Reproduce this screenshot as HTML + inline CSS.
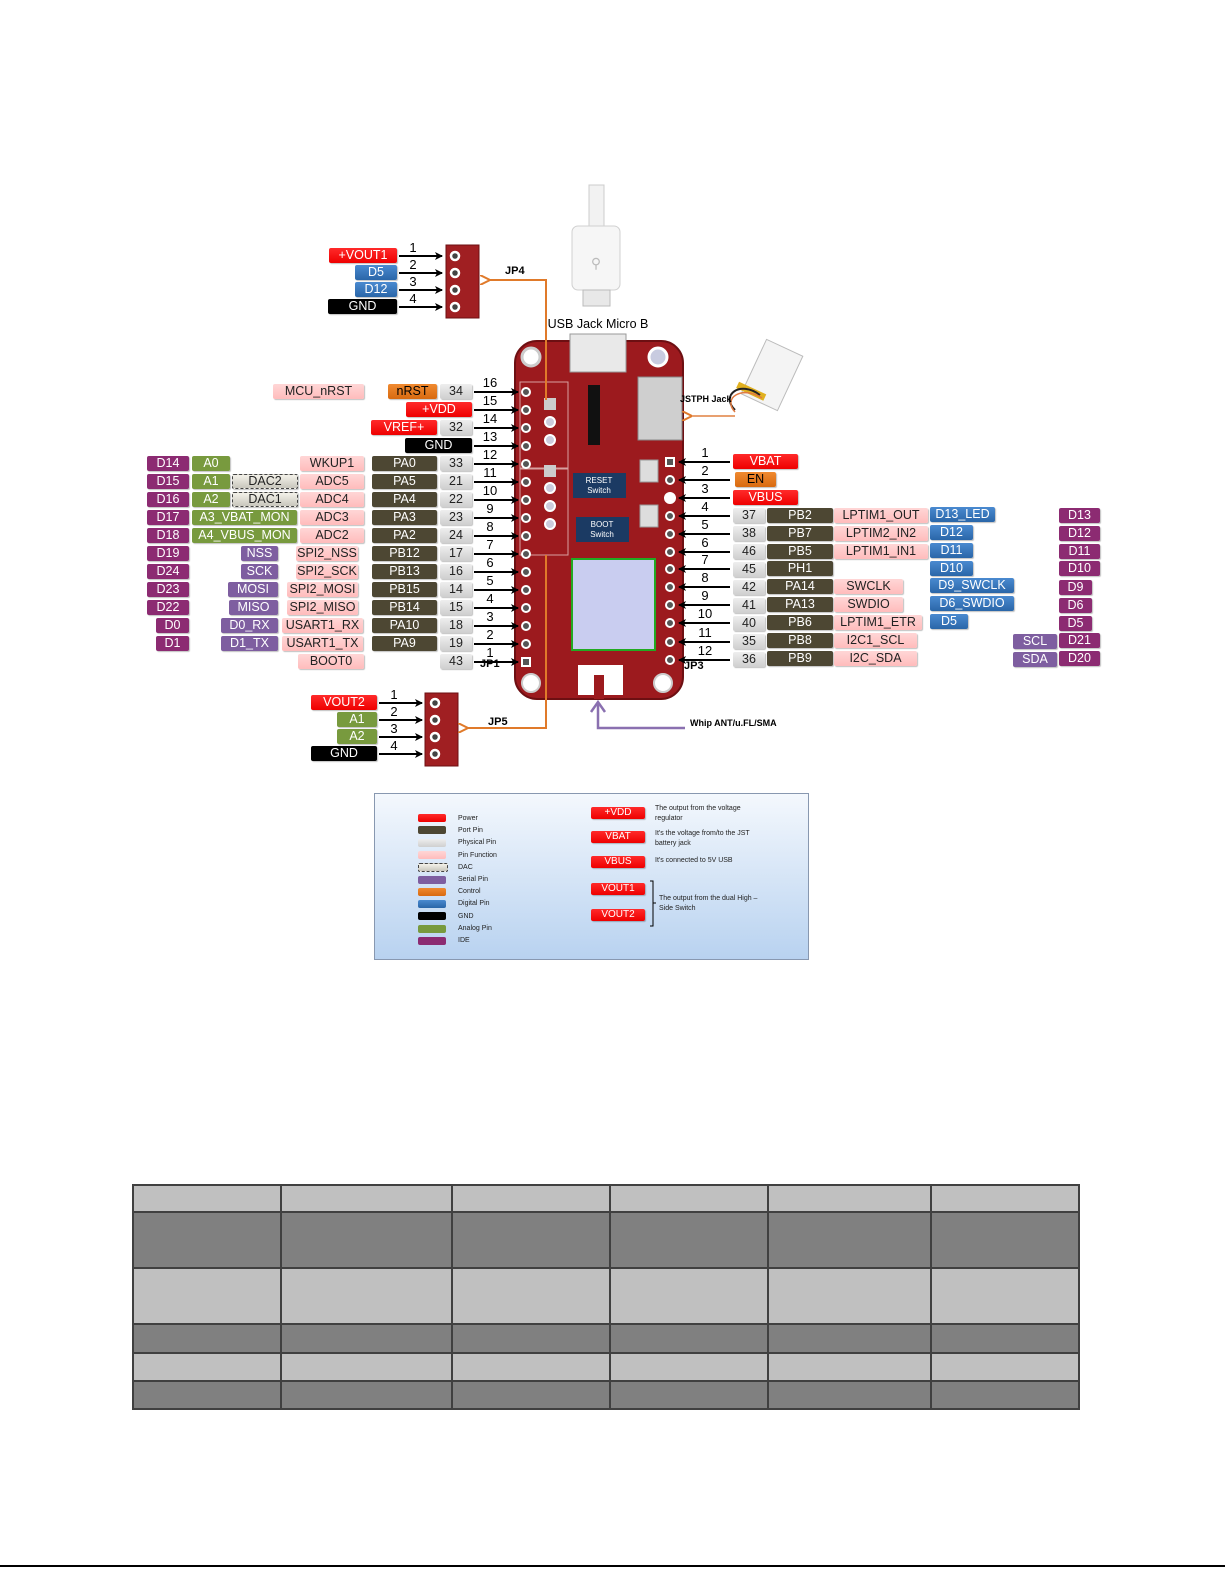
<!DOCTYPE html>
<html><head><meta charset="utf-8"><style>
body{margin:0;width:1225px;height:1585px;background:#fff;position:relative;overflow:hidden;font-family:"Liberation Sans",sans-serif}
.b{position:absolute;height:15px;font-size:12.5px;line-height:15px;text-align:center;border-radius:2px;white-space:nowrap;box-shadow:1px 1px 1px rgba(0,0,0,.25)}
.r{background:linear-gradient(#ff2a2a,#ee0000);color:#fff}
.o{background:linear-gradient(#f08a30,#d86a10);color:#000}
.k{background:#000;color:#fff}
.g{background:linear-gradient(#eee,#cfcfcf);color:#222}
.br{background:#4d4733;color:#fff}
.p{background:linear-gradient(#ffd6d6,#ffbcbc);color:#222}
.s{background:#7e5ea0;color:#fff}
.i{background:#8c2b72;color:#fff}
.gr{background:#789a3e;color:#fff}
.bl{background:linear-gradient(#4a8ad0,#2a66a8);color:#fff}
.d{background:linear-gradient(#f4f2ea,#c8c6bc);color:#222;border:1px dashed #444;height:13px;line-height:13px}
.t{position:absolute;font-size:7px;color:#222;line-height:9.5px}
.sw{position:absolute;left:418px;width:28px;height:8px;border-radius:2px}
table{position:absolute;left:132px;top:1184px;width:948px;border-collapse:collapse}
td{border:2px solid #404040;padding:0}
</style></head><body>

<svg width="1225" height="1585" style="position:absolute;left:0;top:0">
<defs>
<marker id="a" markerWidth="8" markerHeight="8" refX="7" refY="4" orient="auto" markerUnits="userSpaceOnUse"><path d="M0,0 L8,4 L0,8 L2,4z" fill="#000"/></marker>
<marker id="ao" markerWidth="10" markerHeight="10" refX="2" refY="5" orient="auto" markerUnits="userSpaceOnUse"><path d="M10,0 L0,5 L10,10" fill="none" stroke="#e07a2a" stroke-width="2"/></marker>
</defs>
<!-- USB cable -->
<rect x="589" y="185" width="15" height="45" fill="#f2f2f2" stroke="#ccc"/>
<rect x="572" y="226" width="48" height="64" rx="6" fill="#f6f6f6" stroke="#d0d0d0"/>
<text x="596" y="268" font-size="14" text-anchor="middle" fill="#bbb">⚲</text>
<rect x="583" y="290" width="27" height="16" fill="#e8e8e8" stroke="#bbb"/>
<!-- Board -->
<rect x="515" y="341" width="168" height="358" rx="22" fill="#9c1a1e" stroke="#6d0f12" stroke-width="2"/>
<circle cx="531" cy="357" r="9" fill="#fff" stroke="#ccc" stroke-width="3"/>
<circle cx="658" cy="357" r="9" fill="#c8cbe0" stroke="#fff" stroke-width="3"/>
<circle cx="531" cy="683" r="9" fill="#fff" stroke="#ccc" stroke-width="2"/>
<circle cx="663" cy="683" r="9" fill="#fff" stroke="#ccc" stroke-width="2"/>
<rect x="570" y="334" width="56" height="38" fill="#e9e9e9" stroke="#999"/>
<rect x="638" y="377" width="44" height="63" fill="#cfcfcf" stroke="#888"/>
<rect x="520" y="382" width="48" height="86" fill="none" stroke="#d8a0a0"/>
<rect x="520" y="469" width="48" height="86" fill="none" stroke="#d8a0a0"/>
<rect x="588" y="385" width="12" height="60" fill="#111"/>
<rect x="573" y="473" width="53" height="25" fill="#1b3a63"/>
<text x="599" y="483" font-size="8" fill="#fff" text-anchor="middle">RESET</text>
<text x="599" y="493" font-size="8" fill="#fff" text-anchor="middle">Switch</text>
<rect x="576" y="517" width="53" height="25" fill="#1b3a63"/>
<text x="602" y="527" font-size="8" fill="#fff" text-anchor="middle">BOOT</text>
<text x="602" y="537" font-size="8" fill="#fff" text-anchor="middle">Switch</text>
<rect x="640" y="460" width="18" height="22" fill="#ddd" stroke="#999"/>
<rect x="640" y="505" width="18" height="22" fill="#ddd" stroke="#999"/>
<rect x="572" y="559" width="83" height="91" fill="#c9cdf0" stroke="#22aa22" stroke-width="2"/>
<rect x="578" y="665" width="45" height="30" fill="#fff"/>
<rect x="594" y="675" width="10" height="24" fill="#9c1a1e"/>
<rect x="544" y="398" width="12" height="12" fill="#ccc"/>
<circle cx="550" cy="422" r="5" fill="#ccd" stroke="#fff" stroke-width="2"/>
<circle cx="550" cy="440" r="5" fill="#ccd" stroke="#fff" stroke-width="2"/>
<circle cx="550" cy="488" r="5" fill="#ccd" stroke="#fff" stroke-width="2"/>
<circle cx="550" cy="506" r="5" fill="#ccd" stroke="#fff" stroke-width="2"/>
<circle cx="550" cy="524" r="5" fill="#ccd" stroke="#fff" stroke-width="2"/>
<rect x="544" y="465" width="12" height="12" fill="#ccc"/>
<g fill="#555" stroke="#fff" stroke-width="2">
<circle cx="526" cy="392" r="4"/><circle cx="526" cy="410" r="4"/><circle cx="526" cy="428" r="4"/><circle cx="526" cy="446" r="4"/><circle cx="526" cy="464" r="4"/><circle cx="526" cy="482" r="4"/><circle cx="526" cy="500" r="4"/><circle cx="526" cy="518" r="4"/><circle cx="526" cy="536" r="4"/><circle cx="526" cy="554" r="4"/><circle cx="526" cy="572" r="4"/><circle cx="526" cy="590" r="4"/><circle cx="526" cy="608" r="4"/><circle cx="526" cy="626" r="4"/><circle cx="526" cy="644" r="4"/><rect x="522" y="658" width="8" height="8"/>
<rect x="666" y="458" width="8" height="8"/><circle cx="670" cy="480" r="4"/><circle cx="670" cy="498" r="5" fill="#fff"/><circle cx="670" cy="516" r="4"/><circle cx="670" cy="534" r="4"/><circle cx="670" cy="552" r="4"/><circle cx="670" cy="569" r="4"/><circle cx="670" cy="587" r="4"/><circle cx="670" cy="605" r="4"/><circle cx="670" cy="623" r="4"/><circle cx="670" cy="642" r="4"/><circle cx="670" cy="660" r="4"/>
</g>
<!-- battery -->
<rect x="752" y="345" width="40" height="60" transform="rotate(25 772 375)" fill="#f4f4f4" stroke="#bbb"/>
<rect x="745" y="395" width="30" height="7" transform="rotate(25 772 375)" fill="#e0b020"/>
<path d="M735 410 C720 395,740 380,760 395" stroke="#222" fill="none" stroke-width="2"/>
<path d="M735 412 C722 398,742 385,762 398" stroke="#e07a40" fill="none" stroke-width="1.5"/>
<line x1="735" y1="416" x2="690" y2="416" stroke="#e8a070" stroke-width="2" marker-end="url(#ao)"/>
<!-- JP4 connector -->
<rect x="446" y="245" width="33" height="73" fill="#a01f22" stroke="#6d0f12"/>
<g fill="#444" stroke="#fff" stroke-width="2.5"><circle cx="455" cy="256" r="4"/><circle cx="455" cy="273" r="4"/><circle cx="455" cy="290" r="4"/><circle cx="455" cy="307" r="4"/></g>
<!-- JP5 connector -->
<rect x="425" y="693" width="33" height="73" fill="#a01f22" stroke="#6d0f12"/>
<g fill="#444" stroke="#fff" stroke-width="2.5"><circle cx="435" cy="703" r="4"/><circle cx="435" cy="720" r="4"/><circle cx="435" cy="737" r="4"/><circle cx="435" cy="754" r="4"/></g>
<!-- orange lines -->
<path d="M546 400 V280 H488" stroke="#e07a2a" stroke-width="2" fill="none" marker-end="url(#ao)"/>
<path d="M546 555 V728 H466" stroke="#e07a2a" stroke-width="2" fill="none" marker-end="url(#ao)"/>
<!-- purple whip -->
<path d="M685 728 H598 V704" stroke="#8a70b0" stroke-width="2.5" fill="none"/>
<path d="M591 712 L598 702 L605 712" stroke="#8a70b0" stroke-width="2.5" fill="none"/>
<!-- arrows -->
<g stroke="#000" stroke-width="2" marker-end="url(#a)">
<line x1="399" y1="256" x2="442" y2="256"/><line x1="399" y1="273" x2="442" y2="273"/><line x1="399" y1="290" x2="442" y2="290"/><line x1="399" y1="307" x2="442" y2="307"/>
<line x1="379" y1="703" x2="422" y2="703"/><line x1="379" y1="720" x2="422" y2="720"/><line x1="379" y1="737" x2="422" y2="737"/><line x1="379" y1="754" x2="422" y2="754"/>
<line x1="474" y1="392" x2="518" y2="392"/><line x1="474" y1="410" x2="518" y2="410"/><line x1="474" y1="428" x2="518" y2="428"/><line x1="474" y1="446" x2="518" y2="446"/><line x1="474" y1="464" x2="518" y2="464"/><line x1="474" y1="482" x2="518" y2="482"/><line x1="474" y1="500" x2="518" y2="500"/><line x1="474" y1="518" x2="518" y2="518"/><line x1="474" y1="536" x2="518" y2="536"/><line x1="474" y1="554" x2="518" y2="554"/><line x1="474" y1="572" x2="518" y2="572"/><line x1="474" y1="590" x2="518" y2="590"/><line x1="474" y1="608" x2="518" y2="608"/><line x1="474" y1="626" x2="518" y2="626"/><line x1="474" y1="644" x2="518" y2="644"/><line x1="474" y1="662" x2="518" y2="662"/>
<line x1="730" y1="462" x2="679" y2="462"/><line x1="730" y1="480" x2="679" y2="480"/><line x1="730" y1="498" x2="679" y2="498"/><line x1="730" y1="516" x2="679" y2="516"/><line x1="730" y1="534" x2="679" y2="534"/><line x1="730" y1="552" x2="679" y2="552"/><line x1="730" y1="569" x2="679" y2="569"/><line x1="730" y1="587" x2="679" y2="587"/><line x1="730" y1="605" x2="679" y2="605"/><line x1="730" y1="623" x2="679" y2="623"/><line x1="730" y1="642" x2="679" y2="642"/><line x1="730" y1="660" x2="679" y2="660"/>
</g>
<g font-size="13" text-anchor="middle" font-family="Liberation Sans">
<text x="413" y="252">1</text><text x="413" y="269">2</text><text x="413" y="286">3</text><text x="413" y="303">4</text>
<text x="394" y="699">1</text><text x="394" y="716">2</text><text x="394" y="733">3</text><text x="394" y="750">4</text>
<text x="490" y="387">16</text><text x="490" y="405">15</text><text x="490" y="423">14</text><text x="490" y="441">13</text><text x="490" y="459">12</text><text x="490" y="477">11</text><text x="490" y="495">10</text><text x="490" y="513">9</text><text x="490" y="531">8</text><text x="490" y="549">7</text><text x="490" y="567">6</text><text x="490" y="585">5</text><text x="490" y="603">4</text><text x="490" y="621">3</text><text x="490" y="639">2</text><text x="490" y="657">1</text>
<text x="705" y="457">1</text><text x="705" y="475">2</text><text x="705" y="493">3</text><text x="705" y="511">4</text><text x="705" y="529">5</text><text x="705" y="547">6</text><text x="705" y="564">7</text><text x="705" y="582">8</text><text x="705" y="600">9</text><text x="705" y="618">10</text><text x="705" y="637">11</text><text x="705" y="655">12</text>
</g>
<g font-size="11" font-weight="bold" font-family="Liberation Sans">
<text x="505" y="274">JP4</text><text x="488" y="725">JP5</text><text x="480" y="667">JP1</text><text x="684" y="669">JP3</text>
<text x="680" y="402" font-size="9">JSTPH Jack</text><text x="690" y="726" font-size="9">Whip ANT/u.FL/SMA</text>
</g>
<text x="598" y="328" font-size="12.5" text-anchor="middle" font-family="Liberation Sans">USB Jack Micro B</text>
<!-- legend box -->
<defs><linearGradient id="lg" x1="0" y1="0" x2="0" y2="1"><stop offset="0" stop-color="#f4f8fd"/><stop offset="1" stop-color="#b8d2f0"/></linearGradient></defs>
<rect x="374.5" y="793.5" width="434" height="166" fill="url(#lg)" stroke="#8898b0"/>
<path d="M650 881 H653 V926 H650 M653 903 H656" stroke="#000" fill="none"/>
<line x1="0" y1="1566" x2="1225" y2="1566" stroke="#000" stroke-width="2"/>
</svg>

<!-- JP4 labels -->
<div class="b r" style="left:329px;top:248px;width:68px">+VOUT1</div>
<div class="b bl" style="left:355px;top:265px;width:42px">D5</div>
<div class="b bl" style="left:355px;top:282px;width:42px">D12</div>
<div class="b k" style="left:328px;top:299px;width:69px">GND</div>
<!-- JP5 labels -->
<div class="b r" style="left:311px;top:695px;width:66px">VOUT2</div>
<div class="b gr" style="left:337px;top:712px;width:40px">A1</div>
<div class="b gr" style="left:337px;top:729px;width:40px">A2</div>
<div class="b k" style="left:311px;top:746px;width:66px">GND</div>

<!-- Left JP1 -->
<div class="b p" style="left:273px;top:384px;width:91px">MCU_nRST</div>
<div class="b o" style="left:388px;top:384px;width:49px">nRST</div>
<div class="b g" style="left:440px;top:384px;width:32px">34</div>
<div class="b r" style="left:406px;top:402px;width:66px">+VDD</div>
<div class="b r" style="left:371px;top:420px;width:66px">VREF+</div>
<div class="b g" style="left:440px;top:420px;width:32px">32</div>
<div class="b k" style="left:405px;top:438px;width:67px">GND</div>

<div class="b i" style="left:147px;top:456px;width:42px">D14</div><div class="b gr" style="left:192px;top:456px;width:38px">A0</div><div class="b p" style="left:300px;top:456px;width:64px">WKUP1</div><div class="b br" style="left:372px;top:456px;width:65px">PA0</div><div class="b g" style="left:440px;top:456px;width:32px">33</div>
<div class="b i" style="left:147px;top:474px;width:42px">D15</div><div class="b gr" style="left:192px;top:474px;width:38px">A1</div><div class="b d" style="left:232px;top:474px;width:64px">DAC2</div><div class="b p" style="left:300px;top:474px;width:64px">ADC5</div><div class="b br" style="left:372px;top:474px;width:65px">PA5</div><div class="b g" style="left:440px;top:474px;width:32px">21</div>
<div class="b i" style="left:147px;top:492px;width:42px">D16</div><div class="b gr" style="left:192px;top:492px;width:38px">A2</div><div class="b d" style="left:232px;top:492px;width:64px">DAC1</div><div class="b p" style="left:300px;top:492px;width:64px">ADC4</div><div class="b br" style="left:372px;top:492px;width:65px">PA4</div><div class="b g" style="left:440px;top:492px;width:32px">22</div>
<div class="b i" style="left:147px;top:510px;width:42px">D17</div><div class="b gr" style="left:192px;top:510px;width:105px">A3_VBAT_MON</div><div class="b p" style="left:300px;top:510px;width:64px">ADC3</div><div class="b br" style="left:372px;top:510px;width:65px">PA3</div><div class="b g" style="left:440px;top:510px;width:32px">23</div>
<div class="b i" style="left:147px;top:528px;width:42px">D18</div><div class="b gr" style="left:192px;top:528px;width:105px">A4_VBUS_MON</div><div class="b p" style="left:300px;top:528px;width:64px">ADC2</div><div class="b br" style="left:372px;top:528px;width:65px">PA2</div><div class="b g" style="left:440px;top:528px;width:32px">24</div>
<div class="b i" style="left:147px;top:546px;width:42px">D19</div><div class="b s" style="left:241px;top:546px;width:37px">NSS</div><div class="b p" style="left:296px;top:546px;width:62px">SPI2_NSS</div><div class="b br" style="left:372px;top:546px;width:65px">PB12</div><div class="b g" style="left:440px;top:546px;width:32px">17</div>
<div class="b i" style="left:147px;top:564px;width:42px">D24</div><div class="b s" style="left:241px;top:564px;width:37px">SCK</div><div class="b p" style="left:296px;top:564px;width:62px">SPI2_SCK</div><div class="b br" style="left:372px;top:564px;width:65px">PB13</div><div class="b g" style="left:440px;top:564px;width:32px">16</div>
<div class="b i" style="left:147px;top:582px;width:42px">D23</div><div class="b s" style="left:228px;top:582px;width:50px">MOSI</div><div class="b p" style="left:287px;top:582px;width:71px">SPI2_MOSI</div><div class="b br" style="left:372px;top:582px;width:65px">PB15</div><div class="b g" style="left:440px;top:582px;width:32px">14</div>
<div class="b i" style="left:147px;top:600px;width:42px">D22</div><div class="b s" style="left:229px;top:600px;width:49px">MISO</div><div class="b p" style="left:287px;top:600px;width:71px">SPI2_MISO</div><div class="b br" style="left:372px;top:600px;width:65px">PB14</div><div class="b g" style="left:440px;top:600px;width:32px">15</div>
<div class="b i" style="left:156px;top:618px;width:33px">D0</div><div class="b s" style="left:221px;top:618px;width:57px">D0_RX</div><div class="b p" style="left:282px;top:618px;width:81px">USART1_RX</div><div class="b br" style="left:372px;top:618px;width:65px">PA10</div><div class="b g" style="left:440px;top:618px;width:32px">18</div>
<div class="b i" style="left:156px;top:636px;width:33px">D1</div><div class="b s" style="left:221px;top:636px;width:57px">D1_TX</div><div class="b p" style="left:282px;top:636px;width:81px">USART1_TX</div><div class="b br" style="left:372px;top:636px;width:65px">PA9</div><div class="b g" style="left:440px;top:636px;width:32px">19</div>
<div class="b p" style="left:298px;top:654px;width:66px">BOOT0</div><div class="b g" style="left:440px;top:654px;width:32px">43</div>

<!-- Right JP3 -->
<div class="b r" style="left:733px;top:454px;width:65px">VBAT</div>
<div class="b o" style="left:735px;top:472px;width:41px">EN</div>
<div class="b r" style="left:733px;top:490px;width:65px">VBUS</div>
<div class="b g" style="left:733px;top:508px;width:32px">37</div><div class="b br" style="left:767px;top:508px;width:66px">PB2</div><div class="b p" style="left:834px;top:508px;width:94px">LPTIM1_OUT</div><div class="b bl" style="left:930px;top:507px;width:65px">D13_LED</div><div class="b i" style="left:1059px;top:508px;width:41px">D13</div>
<div class="b g" style="left:733px;top:526px;width:32px">38</div><div class="b br" style="left:767px;top:526px;width:66px">PB7</div><div class="b p" style="left:834px;top:526px;width:94px">LPTIM2_IN2</div><div class="b bl" style="left:930px;top:525px;width:43px">D12</div><div class="b i" style="left:1059px;top:526px;width:41px">D12</div>
<div class="b g" style="left:733px;top:544px;width:32px">46</div><div class="b br" style="left:767px;top:544px;width:66px">PB5</div><div class="b p" style="left:834px;top:544px;width:94px">LPTIM1_IN1</div><div class="b bl" style="left:930px;top:543px;width:43px">D11</div><div class="b i" style="left:1059px;top:544px;width:41px">D11</div>
<div class="b g" style="left:733px;top:562px;width:32px">45</div><div class="b br" style="left:767px;top:561px;width:66px">PH1</div><div class="b bl" style="left:930px;top:561px;width:43px">D10</div><div class="b i" style="left:1059px;top:561px;width:41px">D10</div>
<div class="b g" style="left:733px;top:580px;width:32px">42</div><div class="b br" style="left:767px;top:579px;width:66px">PA14</div><div class="b p" style="left:834px;top:579px;width:69px">SWCLK</div><div class="b bl" style="left:930px;top:578px;width:84px">D9_SWCLK</div><div class="b i" style="left:1059px;top:580px;width:33px">D9</div>
<div class="b g" style="left:733px;top:598px;width:32px">41</div><div class="b br" style="left:767px;top:597px;width:66px">PA13</div><div class="b p" style="left:834px;top:597px;width:69px">SWDIO</div><div class="b bl" style="left:930px;top:596px;width:84px">D6_SWDIO</div><div class="b i" style="left:1059px;top:598px;width:33px">D6</div>
<div class="b g" style="left:733px;top:616px;width:32px">40</div><div class="b br" style="left:767px;top:615px;width:66px">PB6</div><div class="b p" style="left:834px;top:615px;width:88px">LPTIM1_ETR</div><div class="b bl" style="left:930px;top:614px;width:38px">D5</div><div class="b i" style="left:1059px;top:616px;width:33px">D5</div>
<div class="b g" style="left:733px;top:634px;width:32px">35</div><div class="b br" style="left:767px;top:633px;width:66px">PB8</div><div class="b p" style="left:834px;top:633px;width:83px">I2C1_SCL</div><div class="b s" style="left:1013px;top:634px;width:44px">SCL</div><div class="b i" style="left:1059px;top:633px;width:41px">D21</div>
<div class="b g" style="left:733px;top:652px;width:32px">36</div><div class="b br" style="left:767px;top:651px;width:66px">PB9</div><div class="b p" style="left:834px;top:651px;width:83px">I2C_SDA</div><div class="b s" style="left:1013px;top:652px;width:44px">SDA</div><div class="b i" style="left:1059px;top:651px;width:41px">D20</div>

<!-- Legend -->
<div class="sw r" style="top:814px"></div><div class="t" style="left:458px;top:814px">Power</div>
<div class="sw br" style="top:826px"></div><div class="t" style="left:458px;top:826px">Port Pin</div>
<div class="sw g" style="top:839px"></div><div class="t" style="left:458px;top:838px">Physical Pin</div>
<div class="sw p" style="top:851px"></div><div class="t" style="left:458px;top:851px">Pin Function</div>
<div class="sw d" style="top:863px;height:7px"></div><div class="t" style="left:458px;top:863px">DAC</div>
<div class="sw s" style="top:876px"></div><div class="t" style="left:458px;top:875px">Serial Pin</div>
<div class="sw o" style="top:888px"></div><div class="t" style="left:458px;top:887px">Control</div>
<div class="sw bl" style="top:900px"></div><div class="t" style="left:458px;top:899px">Digital Pin</div>
<div class="sw k" style="top:912px"></div><div class="t" style="left:458px;top:912px">GND</div>
<div class="sw gr" style="top:925px"></div><div class="t" style="left:458px;top:924px">Analog Pin</div>
<div class="sw i" style="top:937px"></div><div class="t" style="left:458px;top:936px">IDE</div>

<div class="b r" style="left:591px;top:807px;width:54px;height:12px;line-height:12px;font-size:10px">+VDD</div>
<div class="t" style="left:655px;top:804px">The output from the voltage<br>regulator</div>
<div class="b r" style="left:591px;top:831px;width:54px;height:12px;line-height:12px;font-size:10px">VBAT</div>
<div class="t" style="left:655px;top:829px">It's the voltage from/to the JST<br>battery jack</div>
<div class="b r" style="left:591px;top:856px;width:54px;height:12px;line-height:12px;font-size:10px">VBUS</div>
<div class="t" style="left:655px;top:856px">It's connected to 5V USB</div>
<div class="b r" style="left:591px;top:883px;width:54px;height:12px;line-height:12px;font-size:10px">VOUT1</div>
<div class="b r" style="left:591px;top:909px;width:54px;height:12px;line-height:12px;font-size:10px">VOUT2</div>
<div class="t" style="left:659px;top:894px">The output from the dual High –<br>Side Switch</div>

<table>
<tr style="height:27px;background:#c0c0c0"><td style="width:146px"></td><td style="width:169px"></td><td style="width:156px"></td><td style="width:156px"></td><td style="width:161px"></td><td></td></tr>
<tr style="height:56px;background:#808080"><td></td><td></td><td></td><td></td><td></td><td></td></tr>
<tr style="height:56px;background:#c0c0c0"><td></td><td></td><td></td><td></td><td></td><td></td></tr>
<tr style="height:29px;background:#808080"><td></td><td></td><td></td><td></td><td></td><td></td></tr>
<tr style="height:28px;background:#c0c0c0"><td></td><td></td><td></td><td></td><td></td><td></td></tr>
<tr style="height:28px;background:#808080"><td></td><td></td><td></td><td></td><td></td><td></td></tr>
</table>
</body></html>
